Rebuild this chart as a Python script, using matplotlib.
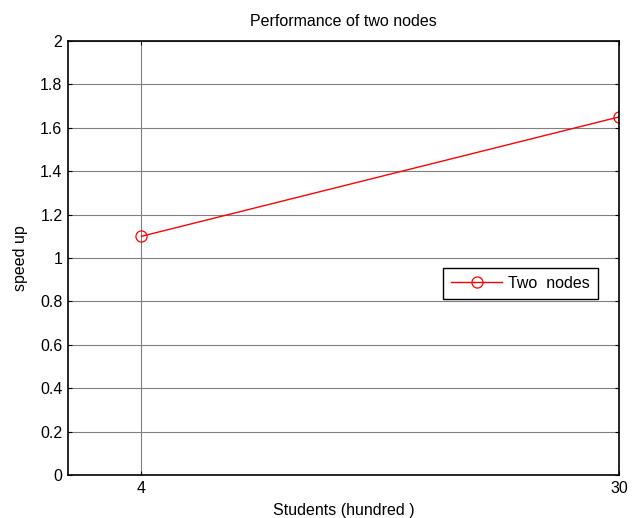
import matplotlib
matplotlib.use("Agg")
import matplotlib.pyplot as plt

students = [4, 30]
speedup = [1.1, 1.65]
xticks = [4, 30]
yticks = [0, 0.2, 0.4, 0.6, 0.8, 1, 1.2, 1.4, 1.6, 1.8, 2]
ytick_labels = ["0", "0.2", "0.4", "0.6", "0.8", "1", "1.2", "1.4", "1.6", "1.8", "2"]

plt.rcParams['font.family'] = ['Liberation Sans', 'DejaVu Sans']
fig = plt.figure(figsize=(6.34, 5.18), dpi=100)
ax = fig.add_axes([68/634, 1-475/518, 551/634, 434/518])

ax.plot(students, speedup, color='red', lw=1.0, marker='o', markersize=8,
        markerfacecolor='none', markeredgecolor='red', markeredgewidth=0.9,
        label='Two  nodes')
ax.set_xlim(0, 30)
ax.set_ylim(0, 2)
ax.set_xticks(xticks)
ax.set_yticks(yticks)
ax.set_yticklabels(ytick_labels)
ax.tick_params(direction='in', length=3, width=0.8, labelsize=11.5, top=True, right=True, pad=4)
ax.grid(True, color='#808080', lw=0.8, ls='-')
for s in ax.spines.values():
    s.set_linewidth(1.2)
ax.set_title('Performance of two nodes', fontsize=11.5, pad=11)
ax.set_xlabel('Students (hundred )', fontsize=11.5, labelpad=5)
ax.set_ylabel('speed up', fontsize=11.5, labelpad=9)

leg = ax.legend(loc='upper left', bbox_to_anchor=((443-68)/551, (475-268)/434),
                fontsize=11.5, fancybox=False, framealpha=1, edgecolor='black',
                handlelength=3.2, handletextpad=0.4, borderpad=0.5,
                borderaxespad=0)
leg.get_frame().set_linewidth(1.0)
fig.canvas.draw()
# widen the frame slightly on the left/right like the reference
frame = leg.get_frame()
frame.set_width(frame.get_width() + 8)
frame.set_x(frame.get_x() - 0)

fig.savefig('out.png', dpi=100)
